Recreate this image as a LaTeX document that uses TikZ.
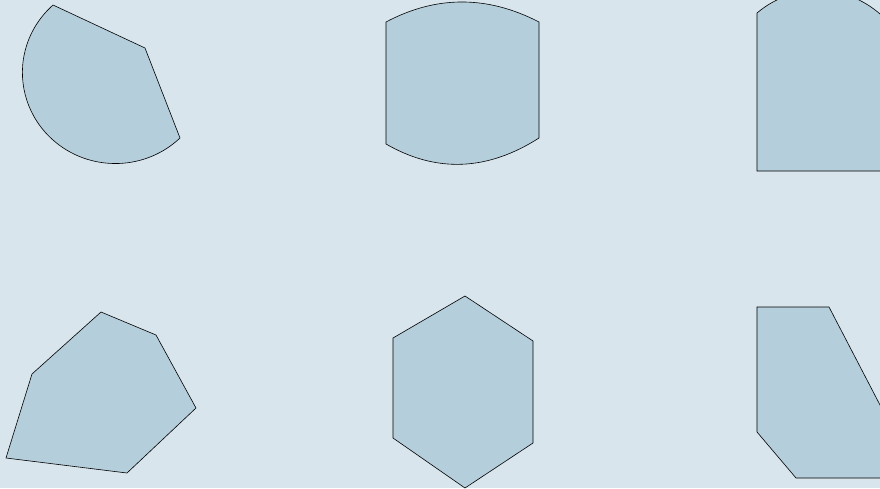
\documentclass[tikz,border=0pt]{standalone}
\usepackage{xcolor}
\definecolor{bgblue}{HTML}{D8E5ED}
\definecolor{tileblue}{HTML}{B5CEDB}

\begin{document}
\begin{tikzpicture}[x=1pt, y=-1pt,
    piece/.style={fill=tileblue, draw=black, line width=0.6pt, line join=miter}]
   \useasboundingbox (0,0) rectangle (880,488);
   \clip (0,0) rectangle (880,488);
   \fill[bgblue] (0,0) rectangle (880,488);

   % top row
   \draw[piece] (53,5) -- (145,48) -- (180,138)
      arc[start angle=46, end angle=227, x radius=93, y radius=91] -- cycle;
   \draw[piece] (386,22) .. controls (436.3,-4.7) and (487.3,-4.7) .. (539,22) -- (539,138)
      .. controls (487.3,171) and (436.3,173) .. (386,144) -- cycle;
   \draw[piece] (757,171) -- (757,13)
      arc[start angle=229.6, end angle=315, radius=94] -- (890,171) -- cycle;

   % bottom row
   \draw[piece] (101,312) -- (156,335) -- (196,408) -- (127,473) -- (6,458) -- (32,374) -- cycle;
   \draw[piece] (465,296) -- (533,341) -- (533,443) -- (465,488) -- (393,438) -- (393,338) -- cycle;
   \draw[piece] (757,307) -- (829,307) -- (900,443.4) -- (900,478) -- (796,478) -- (757,432) -- cycle;
\end{tikzpicture}
\end{document}
